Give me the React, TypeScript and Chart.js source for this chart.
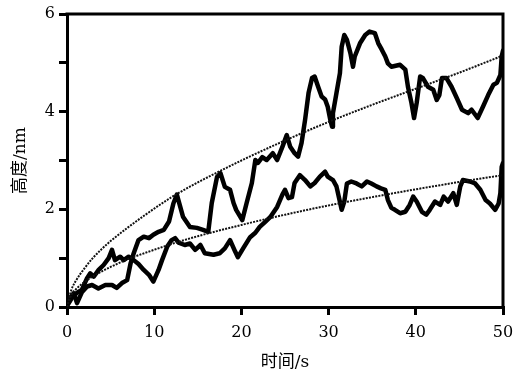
import React, { useEffect, useRef } from 'react';
import { Chart, registerables } from 'chart.js';
Chart.register(...registerables);

// Upper trace (ends near 5 nm)
const traceATime = [0, 0.4, 0.77, 1.15, 1.7, 2.3, 2.87, 3.6, 4.4, 5.16, 5.7, 6.3, 6.9, 7.3, 7.65, 8.2, 8.8, 9.4, 9.9, 10.5, 11.1, 11.7, 12.2, 12.6, 13.3, 14.1, 14.9, 15.6, 16.2, 16.6, 17.2, 17.6, 18.1, 18.7, 19.1, 19.4, 20.1, 20.6, 21.2, 21.6, 21.9, 22.4, 22.9, 23.6, 24.1, 24.7, 25.2, 25.6, 26.1, 26.5, 26.9, 27.3, 27.7, 28.1, 28.4, 28.8, 29.2, 29.6, 29.9, 30.2, 30.4, 30.5, 30.9, 31.3, 31.5, 31.8, 32.1, 32.5, 32.8, 33.0, 33.6, 34.2, 34.7, 35.3, 35.7, 36.1, 36.5, 36.8, 37.2, 38.2, 38.8, 39.1, 39.5, 39.8, 40.1, 40.5, 40.8, 41.4, 42.0, 42.4, 42.7, 43.0, 43.5, 44.1, 44.7, 45.3, 46.0, 46.4, 47.1, 47.7, 48.3, 48.9, 49.3, 49.7, 49.85, 50];
const traceAHeight = [0.05, 0.2, 0.28, 0.08, 0.3, 0.42, 0.45, 0.38, 0.45, 0.45, 0.39, 0.49, 0.55, 0.9, 1.1, 1.37, 1.44, 1.41, 1.48, 1.54, 1.58, 1.75, 2.12, 2.3, 1.85, 1.64, 1.62, 1.58, 1.54, 2.13, 2.66, 2.74, 2.46, 2.4, 2.13, 1.99, 1.78, 2.13, 2.54, 3.01, 2.95, 3.07, 3.01, 3.15, 3.01, 3.28, 3.52, 3.28, 3.15, 3.08, 3.36, 3.83, 4.38, 4.69, 4.72, 4.51, 4.31, 4.25, 4.1, 3.83, 3.69, 3.97, 4.38, 4.79, 5.33, 5.57, 5.47, 5.2, 4.92, 5.13, 5.4, 5.57, 5.64, 5.61, 5.4, 5.27, 5.13, 4.99, 4.92, 4.96, 4.86, 4.51, 4.18, 3.87, 4.18, 4.72, 4.69, 4.51, 4.45, 4.24, 4.34, 4.69, 4.69, 4.51, 4.28, 4.04, 3.97, 4.04, 3.87, 4.1, 4.34, 4.55, 4.59, 4.75, 5.13, 5.25];

// Lower trace (ends near 2 nm)
const traceBTime = [0, 0.6, 1.2, 1.7, 2.3, 2.67, 3.06, 3.63, 4.2, 4.78, 5.16, 5.5, 6.1, 6.5, 7.07, 7.65, 8.2, 8.8, 9.4, 9.9, 10.5, 10.9, 11.5, 12.0, 12.4, 12.8, 13.5, 14.1, 14.7, 15.3, 15.8, 16.8, 17.5, 18.1, 18.7, 19.3, 19.6, 20.2, 21.0, 21.6, 22.1, 22.7, 23.3, 24.1, 24.7, 25.0, 25.4, 25.8, 26.1, 26.7, 27.3, 27.9, 28.4, 29.0, 29.6, 29.9, 30.5, 30.9, 31.2, 31.5, 31.8, 32.1, 32.6, 33.2, 33.8, 34.4, 34.9, 35.5, 36.0, 36.5, 36.8, 37.2, 37.6, 38.2, 38.8, 39.3, 39.7, 40.1, 40.7, 41.2, 41.6, 42.2, 42.8, 43.2, 43.7, 44.3, 44.7, 45.1, 45.4, 46.2, 46.8, 47.4, 48.0, 48.5, 49.1, 49.5, 49.7, 49.85, 50];
const traceBHeight = [0.02, 0.2, 0.3, 0.35, 0.59, 0.69, 0.62, 0.76, 0.86, 1.0, 1.17, 0.96, 1.03, 0.96, 1.03, 0.96, 0.88, 0.76, 0.66, 0.52, 0.76, 0.96, 1.24, 1.37, 1.41, 1.32, 1.27, 1.3, 1.17, 1.27, 1.1, 1.07, 1.1, 1.2, 1.37, 1.13, 1.02, 1.2, 1.43, 1.52, 1.64, 1.74, 1.84, 2.05, 2.3, 2.4, 2.23, 2.25, 2.54, 2.7, 2.6, 2.47, 2.54, 2.67, 2.77, 2.67, 2.6, 2.47, 2.23, 1.99, 2.16, 2.53, 2.57, 2.53, 2.47, 2.57, 2.53, 2.47, 2.43, 2.4, 2.19, 2.03, 1.99, 1.92, 1.95, 2.09, 2.26, 2.16, 1.95, 1.89, 1.99, 2.16, 2.09, 2.26, 2.16, 2.33, 2.09, 2.47, 2.6, 2.57, 2.53, 2.4, 2.19, 2.12, 1.99, 2.12, 2.33, 2.87, 2.95];

// Dotted fit curves
const fitTime = [0, 0.5, 1, 2, 3, 4, 5, 7, 9, 12, 15, 20, 25, 30, 35, 40, 45, 50];
const fitUpper = [0, 0.35, 0.53, 0.79, 1.01, 1.19, 1.35, 1.63, 1.89, 2.25, 2.55, 3.0, 3.41, 3.79, 4.14, 4.47, 4.8, 5.15];
const fitLower = [0, 0.25, 0.36, 0.51, 0.63, 0.73, 0.82, 0.98, 1.11, 1.29, 1.45, 1.68, 1.89, 2.08, 2.25, 2.41, 2.56, 2.7];

const yTickLabels: Record<number, string> = { 0: '0', 1: '', 2: '2', 3: '', 4: '4', 5: '', 6: '6' };
const xTitle = '时间/s';
const yTitle = '高度/nm';

const pts = (xs: number[], ys: number[]) => xs.map((x, i) => ({ x, y: ys[i] }));

const framePlugin = {
  id: 'frame',
  afterDraw(chart: any) {
    const { ctx, chartArea } = chart;
    const { left, right, top, bottom } = chartArea;
    ctx.save();
    ctx.strokeStyle = '#000';
    ctx.lineWidth = 3;
    ctx.beginPath();
    ctx.moveTo(left - 1.5, top);
    ctx.lineTo(right, top);
    ctx.lineTo(right, bottom);
    ctx.stroke();
    ctx.restore();
  },
};

const tickFont = { family: '"DejaVu Serif", serif', size: 16 };
const titleFont = { family: '"DejaVu Serif", "Noto Sans CJK SC", serif', size: 17 };

export default function App() {
  const ref = useRef<HTMLCanvasElement | null>(null);
  useEffect(() => {
    if (!ref.current) return;
    const lineDs = (data: any[]) => ({
      data,
      borderColor: '#000',
      borderWidth: 4.5,
      pointRadius: 0,
      tension: 0,
      borderJoinStyle: 'round' as const,
      borderCapStyle: 'round' as const,
      fill: false,
    });
    const fitDs = (data: any[]) => ({
      data,
      borderColor: '#111',
      borderWidth: 2,
      borderDash: [2, 1.2],
      pointRadius: 0,
      cubicInterpolationMode: 'monotone' as const,
      fill: false,
    });
    const chart = new Chart(ref.current, {
      type: 'line',
      data: {
        datasets: [
          fitDs(pts(fitTime, fitUpper)),
          fitDs(pts(fitTime, fitLower)),
          lineDs(pts(traceATime, traceAHeight)),
          lineDs(pts(traceBTime, traceBHeight)),
        ],
      },
      options: {
        animation: false,
        responsive: false,
        layout: { padding: { top: 14, right: 25, left: 0, bottom: 0 } },
        plugins: { legend: { display: false }, tooltip: { enabled: false } },
        scales: {
          x: {
            type: 'linear',
            min: 0,
            max: 50,
            afterFit: (s: any) => { s.height = 70; },
            ticks: { stepSize: 10, color: '#000', font: tickFont, padding: 8, maxRotation: 0 },
            grid: { drawOnChartArea: false, drawTicks: true, tickLength: 8, lineWidth: 3, color: '#000' },
            border: { display: true, width: 3, color: '#000' },
            title: { display: true, text: xTitle, color: '#000', font: titleFont, padding: { top: 0, bottom: 4 } },
          },
          y: {
            type: 'linear',
            min: 0,
            max: 6,
            afterFit: (s: any) => { s.width = 67; },
            ticks: {
              stepSize: 1,
              color: '#000',
              font: tickFont,
              padding: 4,
              callback: (v: any) => yTickLabels[v as number] ?? '',
            },
            grid: { drawOnChartArea: false, drawTicks: true, tickLength: 8, lineWidth: 3, color: '#000' },
            border: { display: true, width: 3, color: '#000' },
            title: { display: true, text: yTitle, color: '#000', font: titleFont, padding: { top: 10, bottom: 0 } },
          },
        },
      },
      plugins: [framePlugin],
    });
    return () => chart.destroy();
  }, []);
  return (
    <div style={{ position: 'absolute', left: 0, top: 0, width: 528, height: 377, background: '#fff' }}>
      <canvas ref={ref} width={528} height={377} style={{ display: 'block' }} />
    </div>
  );
}
